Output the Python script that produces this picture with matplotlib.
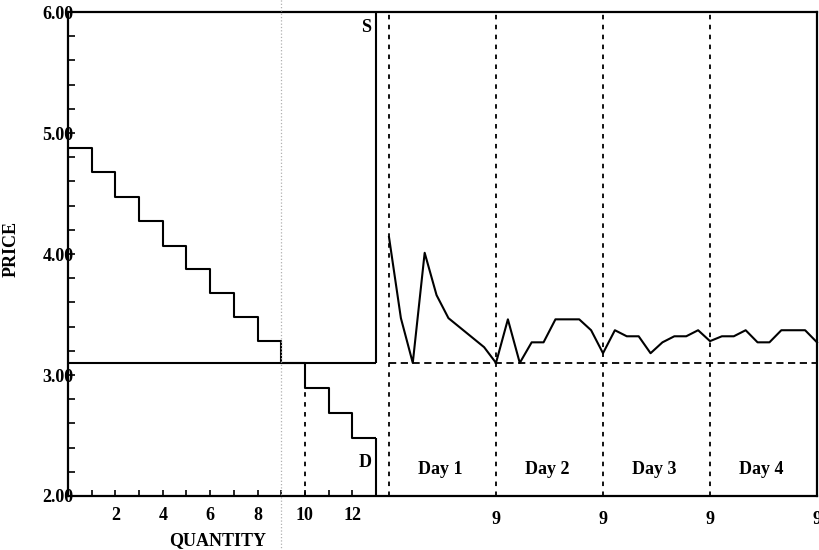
import matplotlib
matplotlib.use('Agg')
import matplotlib.pyplot as plt
import numpy as np

plt.rcParams['font.family'] = ['Liberation Serif', 'DejaVu Serif']
plt.rcParams['font.weight'] = 'bold'
plt.rcParams['axes.labelweight'] = 'bold'
plt.rcParams['font.size'] = 13

# demand: one value per unit (units 1..13)
demand_values = [4.88, 4.68, 4.47, 4.27, 4.07, 3.88, 3.68, 3.48, 3.28, 3.10, 2.89, 2.69, 2.48]
# supply: flat cost for 13 units, then vertical
supply_price = 3.10
supply_units = 13
equilibrium_price = 3.10

# contract prices, 9 trades per day, line is continuous over the days
day_names = ['Day 1', 'Day 2', 'Day 3', 'Day 4']
trades_per_day = 9
trade_prices = [4.14, 3.47, 3.10, 4.01, 3.66, 3.47, 3.39, 3.31, 3.23, 3.10,
                3.46, 3.10, 3.27, 3.27, 3.46, 3.46, 3.46, 3.37, 3.18,
                3.37, 3.32, 3.32, 3.18, 3.27, 3.32, 3.32, 3.37, 3.28,
                3.32, 3.32, 3.37, 3.27, 3.27, 3.37, 3.37, 3.37, 3.27]

W, H = 820, 550
fig = plt.figure(figsize=(W/100, H/100), dpi=100)

# pixel layout of the panels
x0, x1, x_split, x_days = 68, 817, 376, 389
y0, y1 = 54, 538
lw = 1.5

# the frame: border and price axis
ax = fig.add_axes([x0/W, y0/H, (x1-x0)/W, (y1-y0)/H])
ax.set_ylim(2, 6)
ax.set_xlim(0, 1)
ax.set_yticks([2, 3, 4, 5, 6])
ax.set_yticklabels(['2.00', '3.00', '4.00', '5.00', '6.00'])
ax.set_yticks(np.arange(2, 6.01, 0.2), minor=True)
ax.tick_params(axis='y', which='both', direction='in', length=5, width=1.2, pad=-4)
ax.tick_params(axis='y', labelsize=13)
ax.set_xticks([])
for s in ax.spines.values():
    s.set_linewidth(1.6)
ax.set_ylabel('PRICE', fontsize=13, fontweight='bold')
ax.yaxis.set_label_coords(-(x0-20)/(x1-x0), 0.51)

# left panel: supply and demand
axL = fig.add_axes([x0/W, y0/H, (x_split-x0)/W, (y1-y0)/H], sharey=ax)
axL.patch.set_alpha(0)
for s in axL.spines.values():
    s.set_visible(False)
axL.set_xlim(0, len(demand_values))

q = np.arange(len(demand_values) + 1)
axL.step(q, demand_values + [demand_values[-1]], where='post', color='black', lw=lw)
axL.vlines(len(demand_values), 2, demand_values[-1], color='black', lw=lw, clip_on=False)
axL.hlines(supply_price, 0, supply_units, color='black', lw=lw)
axL.vlines(supply_units, supply_price, 6, color='black', lw=lw, clip_on=False)
axL.vlines(10, 2, demand_values[10], color='black', lw=1.3, linestyles=(0, (2.5, 3)))

axL.text(12.6, 5.87, 'S', ha='center', va='center', fontsize=13)
axL.text(12.55, 2.28, 'D', ha='center', va='center', fontsize=13)

axL.set_xticks(range(1, 14))
axL.set_xticklabels([str(i) if i % 2 == 0 and i < 13 else '' for i in range(1, 14)])
axL.tick_params(axis='x', direction='in', length=4, width=1.2, pad=8, labelsize=13)
axL.tick_params(axis='y', which='both', left=False, labelleft=False)
axL.text(6.3, -0.091, 'QUANTITY', transform=axL.get_xaxis_transform(),
         ha='center', va='center', fontsize=13)

# fold mark of the scanned page
axL.axvline(9, ymin=-0.12, ymax=1.03, color='#b0b0b0', lw=0.9, ls=':', clip_on=False)

# right panel: contract prices by day
axR = fig.add_axes([x_days/W, y0/H, (x1-x_days)/W, (y1-y0)/H], sharey=ax)
axR.patch.set_alpha(0)
for s in axR.spines.values():
    s.set_visible(False)
n_total = trades_per_day * len(day_names)
axR.set_xlim(0, n_total)
axR.plot(np.arange(len(trade_prices)), trade_prices, color='black', lw=lw, clip_on=False)
axR.hlines(equilibrium_price, 0, n_total, color='black', lw=1.3, linestyles=(0, (4, 2.5)))
for d in range(len(day_names)):
    axR.axvline(d * trades_per_day, color='black', lw=1.3, ls=(0, (2.5, 3)), clip_on=False)
    axR.text(d * trades_per_day + 4.3, 2.22, day_names[d], ha='center', va='center',
             fontsize=13)
axR.set_xticks([trades_per_day * (d + 1) for d in range(len(day_names))])
axR.set_xticklabels([str(trades_per_day)] * len(day_names))
axR.tick_params(axis='x', length=0, pad=11, labelsize=13)
axR.tick_params(axis='y', which='both', left=False, labelleft=False)

fig.savefig('out.png', dpi=100)
